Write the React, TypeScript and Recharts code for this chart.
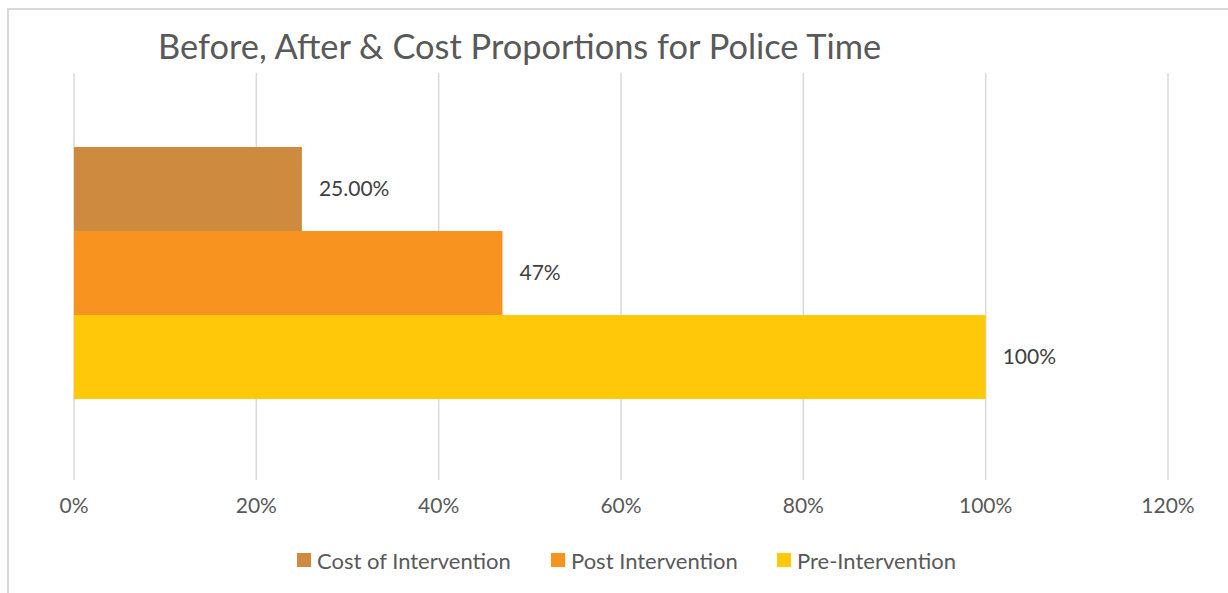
import { Bar, BarChart, CartesianGrid, LabelList, XAxis, YAxis } from 'recharts';

const categories = ['Police Time'];
const costOfIntervention = [0.25];
const postIntervention = [0.47];
const preIntervention = [1.0];
const xTicks = [0, 0.2, 0.4, 0.6, 0.8, 1.0, 1.2];

const seriesNames = ['Cost of Intervention', 'Post Intervention', 'Pre-Intervention'];
const seriesColors = ['#CE8B40', '#F7931E', '#FFC808'];

const data = categories.map((category, i) => ({
  category,
  cost: costOfIntervention[i],
  post: postIntervention[i],
  pre: preIntervention[i],
}));

const FONT = 'Lato, "Open Sans", sans-serif';

const pct = (v: number) => `${Math.round(v * 100)}%`;

// legend positions, taken from the reference layout
const legendLeft = [297, 551, 777];

export default function App() {
  return (
    <div style={{ position: 'absolute', left: 0, top: 0, width: 1228, height: 593, background: '#fff', fontFamily: FONT, overflow: 'hidden' }}>
      <div
        style={{
          position: 'absolute',
          left: 7,
          top: 8,
          width: 1240,
          height: 600,
          borderLeft: '2px solid #d9d9d9',
          borderTop: '2px solid #d9d9d9',
        }}
      />
      <div
        style={{
          position: 'absolute',
          left: 158,
          top: 29,
          fontSize: 34.4,
          lineHeight: 1,
          color: '#595959',
          whiteSpace: 'nowrap',
        }}
      >
        Before, After &amp; Cost Proportions for Police Time
      </div>
      <div style={{ position: 'absolute', left: 0, top: 0 }}>
        <BarChart
          width={1228}
          height={593}
          data={data}
          layout="vertical"
          margin={{ top: 73, right: 60, bottom: 83, left: 74 }}
          barGap={0}
        >
          <CartesianGrid horizontal={false} stroke="#d9d9d9" strokeWidth={1.5} />
          <XAxis
            type="number"
            domain={[0, 1.2]}
            ticks={xTicks}
            tickFormatter={pct}
            axisLine={false}
            tickLine={false}
            tickMargin={12}
            height={30}
            interval={0}
            tick={{ fill: '#595959', fontSize: 21, fontFamily: FONT }}
          />
          <YAxis type="category" dataKey="category" hide padding={{ top: 0, bottom: 8 }} />
          <Bar dataKey="cost" name={seriesNames[0]} fill={seriesColors[0]} barSize={84} isAnimationActive={false}>
            <LabelList
              dataKey="cost"
              position="right"
              offset={17}
              formatter={(v: any) => `${(Number(v) * 100).toFixed(2)}%`}
              style={{ fill: '#404040', fontSize: 21, fontFamily: FONT }}
            />
          </Bar>
          <Bar dataKey="post" name={seriesNames[1]} fill={seriesColors[1]} barSize={84} isAnimationActive={false}>
            <LabelList
              dataKey="post"
              position="right"
              offset={17}
              formatter={(v: any) => pct(Number(v))}
              style={{ fill: '#404040', fontSize: 21, fontFamily: FONT }}
            />
          </Bar>
          <Bar dataKey="pre" name={seriesNames[2]} fill={seriesColors[2]} barSize={84} isAnimationActive={false}>
            <LabelList
              dataKey="pre"
              position="right"
              offset={17}
              formatter={(v: any) => pct(Number(v))}
              style={{ fill: '#404040', fontSize: 21, fontFamily: FONT }}
            />
          </Bar>
        </BarChart>
      </div>
      {seriesNames.map((name, i) => (
        <div
          key={name}
          style={{
            position: 'absolute',
            left: legendLeft[i],
            top: 549,
            height: 22,
            display: 'flex',
            alignItems: 'center',
            fontSize: 22,
            color: '#595959',
            whiteSpace: 'nowrap',
          }}
        >
          <span style={{ display: 'inline-block', width: 14, height: 14, background: seriesColors[i], marginRight: 6 }} />
          {name}
        </div>
      ))}
    </div>
  );
}
